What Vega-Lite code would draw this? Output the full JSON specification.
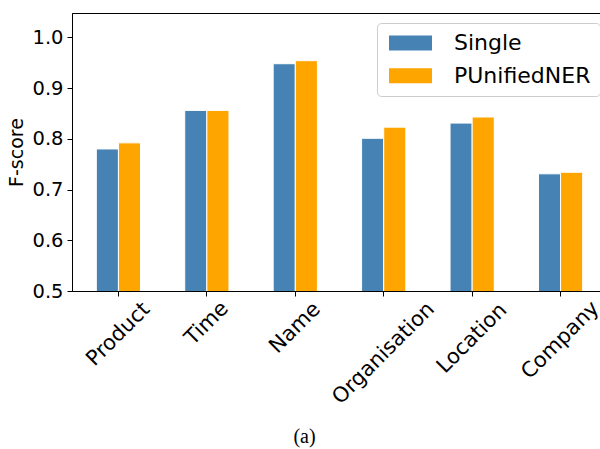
{
  "$schema": "https://vega.github.io/schema/vega-lite/v6.json",
  "autosize": {"type": "none"},
  "padding": {"left": 72, "top": 13, "right": 0, "bottom": 158},
  "width": 535,
  "height": 278,
  "background": "white",
  "data": {
    "values": [
      {"category": "Product", "series": "Single", "value": 0.780},
      {"category": "Product", "series": "PUnifiedNER", "value": 0.792},
      {"category": "Time", "series": "Single", "value": 0.856},
      {"category": "Time", "series": "PUnifiedNER", "value": 0.856},
      {"category": "Name", "series": "Single", "value": 0.948},
      {"category": "Name", "series": "PUnifiedNER", "value": 0.954},
      {"category": "Organisation", "series": "Single", "value": 0.801},
      {"category": "Organisation", "series": "PUnifiedNER", "value": 0.823},
      {"category": "Location", "series": "Single", "value": 0.831},
      {"category": "Location", "series": "PUnifiedNER", "value": 0.843},
      {"category": "Company", "series": "Single", "value": 0.731},
      {"category": "Company", "series": "PUnifiedNER", "value": 0.734}
    ]
  },
  "mark": {"type": "bar", "stroke": "white", "strokeWidth": 1, "clip": true},
  "encoding": {
    "x": {
      "field": "category",
      "type": "nominal",
      "sort": ["Product", "Time", "Name", "Organisation", "Location", "Company"],
      "scale": {"paddingInner": 0.5, "paddingOuter": 0.275},
      "axis": {
        "title": "(a)",
        "titleFont": "Liberation Serif",
        "titleFontSize": 20,
        "titleFontWeight": "normal",
        "titleColor": "black",
        "titleX": 232,
        "titlePadding": 19,
        "labelAngle": -45,
        "labelAlign": "center",
        "labelBaseline": "middle",
        "labelFont": "DejaVu Sans",
        "labelFontSize": 21,
        "labelColor": "black",
        "labelPadding": {
          "condition": [
            {"test": "datum.value === 'Product'", "value": 38},
            {"test": "datum.value === 'Time'", "value": 27},
            {"test": "datum.value === 'Name'", "value": 31.5},
            {"test": "datum.value === 'Organisation'", "value": 57},
            {"test": "datum.value === 'Location'", "value": 42}
          ],
          "value": 44
        },
        "tickSize": 5,
        "tickColor": "black",
        "domainColor": "black",
        "labelOverlap": false,
        "labelFlush": false
      }
    },
    "xOffset": {
      "field": "series",
      "type": "nominal",
      "sort": ["Single", "PUnifiedNER"],
      "scale": {"paddingInner": 0, "paddingOuter": 0}
    },
    "y": {
      "field": "value",
      "type": "quantitative",
      "scale": {"domain": [0.5, 1.048], "zero": false, "nice": false},
      "axis": {
        "title": "F-score",
        "titleFont": "DejaVu Sans",
        "titleFontSize": 19,
        "titleFontWeight": "normal",
        "titleColor": "black",
        "titlePadding": 5,
        "values": [0.5, 0.6, 0.7, 0.8, 0.9, 1.0],
        "format": ".1f",
        "labelFont": "DejaVu Sans",
        "labelFontSize": 19.5,
        "labelColor": "black",
        "labelPadding": 4,
        "tickSize": 5,
        "tickColor": "black",
        "domainColor": "black",
        "grid": false
      }
    },
    "color": {
      "field": "series",
      "type": "nominal",
      "sort": ["Single", "PUnifiedNER"],
      "scale": {"domain": ["Single", "PUnifiedNER"], "range": ["#4682b4", "#ffa500"]},
      "legend": {
        "title": null,
        "orient": "none",
        "legendX": 305,
        "legendY": 10,
        "symbolType": "M-1,-0.9375H4.375V0.9375H-1Z",
        "symbolSize": 256,
        "symbolStrokeWidth": 0,
        "symbolOpacity": 1,
        "labelOffset": 46,
        "labelFont": "DejaVu Sans",
        "labelFontSize": 22,
        "labelColor": "black",
        "rowPadding": 10.7,
        "padding": 9,
        "fillColor": "rgba(255,255,255,0.8)",
        "strokeColor": "#cccccc",
        "cornerRadius": 4
      }
    }
  },
  "config": {
    "view": {"stroke": "black", "strokeWidth": 1},
    "axis": {"domainWidth": 1, "tickWidth": 1}
  }
}
